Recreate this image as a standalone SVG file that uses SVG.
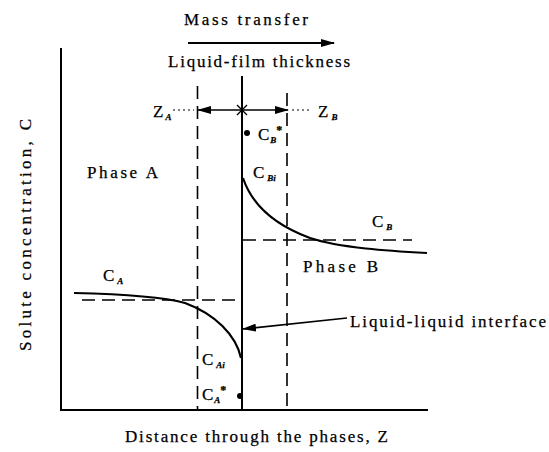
<svg xmlns="http://www.w3.org/2000/svg" width="549" height="452" viewBox="0 0 549 452">
<defs>
<style>
text{font-family:"Liberation Serif","DejaVu Serif",serif;fill:#000;stroke:#000;stroke-width:0.25}
.lbl{font-size:17px}
.sub{font-size:9px;font-style:italic;font-weight:bold}
.star{font-size:12px;font-weight:bold;font-style:normal}
.ax{stroke:#000;stroke-width:2;fill:none}
.dash{stroke:#000;stroke-width:1.6;fill:none;stroke-dasharray:13 7}
.dot{stroke:#000;stroke-width:1.2;fill:none;stroke-dasharray:2 3}
.ln{stroke:#000;stroke-width:1.6;fill:none}
.crv{stroke:#000;stroke-width:2.2;fill:none}
</style>
<marker id="ah" markerWidth="14" markerHeight="8" refX="13" refY="4" orient="auto" markerUnits="userSpaceOnUse">
<path d="M0,0 L14,4 L0,8 Z" fill="#000"/>
</marker>
</defs>
<rect width="549" height="452" fill="#fff"/>

<g id="axes">
<path class="ax" d="M61,48 V410 H428"/>
<text class="lbl" transform="translate(31,351) rotate(-90)" textLength="232">Solute concentration, C</text>
<text class="lbl" x="125" y="442" textLength="263">Distance through the phases, Z</text>
</g>

<g id="header">
<text class="lbl" x="184" y="25" textLength="124">Mass transfer</text>
<text class="lbl" x="168" y="67" textLength="182">Liquid-film thickness</text>
</g>

<g id="film-lines">
<line class="ln" x1="242" y1="76" x2="242" y2="410" style="stroke-width:2"/>
<line class="dash" x1="197.5" y1="86" x2="197.5" y2="410"/>
<line class="dash" x1="287" y1="93" x2="287" y2="410"/>
<line class="dash" x1="82" y1="300" x2="242" y2="300"/>
<line class="dash" x1="243" y1="240" x2="412" y2="240"/>
</g>

<g id="profiles">
<path class="crv" d="M74,293 C120,294 160,296 185,303 C215,314 236,335 241,358"/>
<path class="crv" d="M243,178 C252,205 275,225 310,238 C340,248 390,251 427,253"/>
<circle cx="247" cy="133" r="3" fill="#000"/>
<circle cx="240" cy="396" r="3" fill="#000"/>
</g>

<g id="connectors">
<line class="ln" x1="188" y1="43" x2="334" y2="43" style="stroke-width:2" marker-end="url(#ah)"/>
<line class="ln" x1="242" y1="110" x2="198" y2="110" marker-end="url(#ah)"/>
<line class="ln" x1="242" y1="110" x2="288" y2="110" marker-end="url(#ah)"/>
<line class="dot" x1="173" y1="110" x2="194" y2="110"/>
<line class="dot" x1="292" y1="110" x2="310" y2="110"/>
<path class="ln" d="M237,105 L247,115 M247,105 L237,115" style="stroke-width:1.4"/>
<line class="ln" x1="347" y1="318" x2="243" y2="329" marker-end="url(#ah)"/>
</g>

<g id="labels">
<text class="lbl" x="153" y="117">Z<tspan class="sub" dx="2" dy="3">A</tspan></text>
<text class="lbl" x="318" y="117">Z<tspan class="sub" dx="3" dy="3">B</tspan></text>
<text class="lbl" x="87" y="178" textLength="71">Phase A</text>
<text class="lbl" x="303" y="272" textLength="75">Phase B</text>
<text class="lbl" x="258" y="140">C<tspan class="sub" dx="1" dy="3">B</tspan><tspan class="star" dx="0" dy="-9">*</tspan></text>
<text class="lbl" x="253" y="178">C<tspan class="sub" dx="3" dy="3">Bi</tspan></text>
<text class="lbl" x="372" y="227">C<tspan class="sub" dx="3" dy="3">B</tspan></text>
<text class="lbl" x="103" y="281">C<tspan class="sub" dx="3" dy="3">A</tspan></text>
<text class="lbl" x="202" y="365">C<tspan class="sub" dx="3" dy="3">Ai</tspan></text>
<text class="lbl" x="202" y="400">C<tspan class="sub" dx="1" dy="3">A</tspan><tspan class="star" dx="0" dy="-9">*</tspan></text>
<text class="lbl" x="350" y="327" textLength="196">Liquid-liquid interface</text>
</g>
</svg>
